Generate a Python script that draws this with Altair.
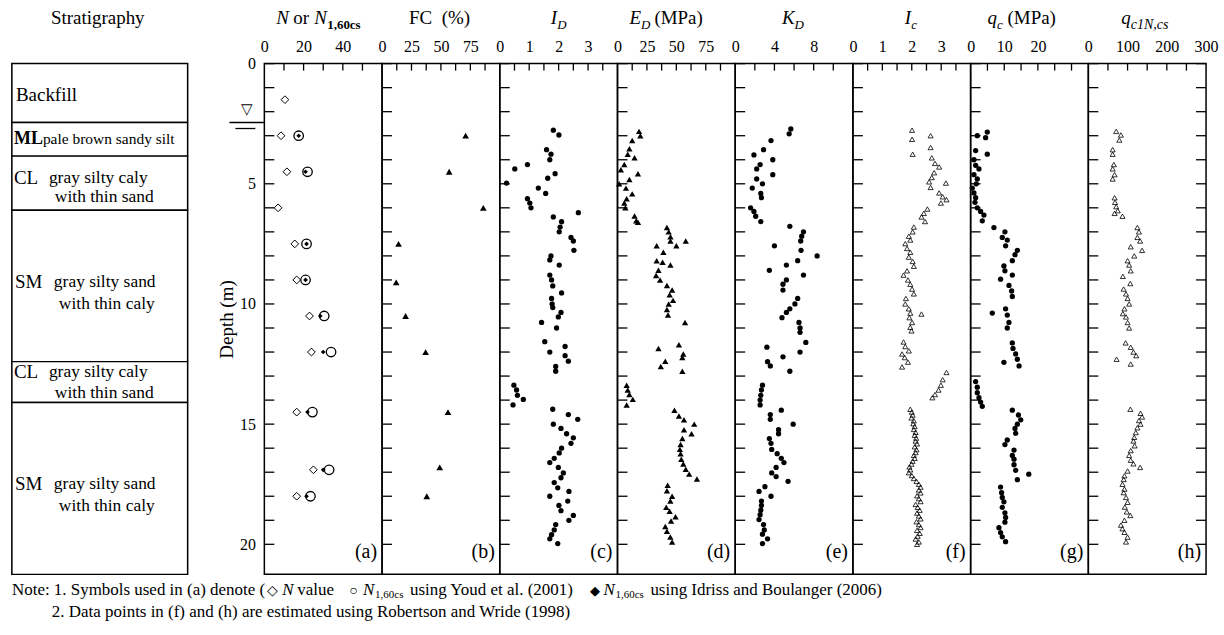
import altair as alt
import pandas as pd

FONT = "Liberation Serif"
W, H, DMAX = 118, 512, 21.25
SW = 176

# ---------------- data ----------------
# (a) SPT
a_depth = [1.5, 3.0, 4.5, 6.0, 7.5, 9.0, 10.5, 12.0, 14.5, 16.9, 18.0]
a_n     = [10.5, 8.5, 11.5, 7.0, 15.5, 16.5, 23.0, 24.0, 16.5, 25.0, 16.5]
a_youd  = [None, 17.5, 22.0, None, 21.5, 21.0, 30.5, 34.0, 24.5, 33.0, 23.5]
a_ib    = [None, 17.5, 21.0, None, 21.5, 21.0, 28.5, 30.0, 22.0, 30.0, 21.5]

# (b) fines content
b_depth = [3.0, 4.5, 6.0, 7.5, 9.1, 10.5, 12.0, 14.5, 16.8, 18.0]
b_fc    = [71, 57, 86, 14, 12, 20, 37, 56, 49, 38]

# (c) I_D
c_depth = [2.77, 2.97, 3.58, 3.77, 4.0, 4.2, 4.38, 4.58, 4.77, 4.97, 5.18, 5.4, 5.62, 5.8, 6.0,
           6.2, 6.38, 6.58, 6.8, 7.0, 7.23, 7.38, 7.77, 8.0, 8.17, 8.38, 8.8, 9.0, 9.25, 9.54,
           9.77, 10.0, 10.15, 10.35, 10.54, 10.77, 11.0, 11.57, 11.77, 12.0, 12.15, 12.38, 12.6,
           12.8, 13.38, 13.58, 13.8, 13.97, 14.2, 14.38, 14.6, 14.8, 15.0, 15.18, 15.4, 15.57,
           15.8, 16.0, 16.2, 16.42, 16.6, 16.8, 17.03, 17.23, 17.43, 17.65, 17.8, 18.0, 18.2,
           18.38, 18.6, 18.8, 19.0, 19.18, 19.4, 19.6, 19.77, 19.97]
c_id    = [1.82, 2.01, 1.59, 1.74, 1.70, 0.94, 0.51, 1.88, 1.63, 0.23, 1.31, 1.56, 0.94, 1.02, 1.06,
           2.67, 1.82, 2.10, 2.05, 2.02, 2.42, 2.50, 2.52, 1.74, 1.70, 2.02, 1.70, 1.76, 1.80, 2.10,
           1.76, 1.78, 1.80, 2.08, 1.99, 1.42, 1.93, 1.53, 2.22, 1.70, 2.22, 2.33, 1.90,
           1.90, 0.48, 0.57, 0.60, 0.80, 0.45, 1.80, 2.33, 2.65, 1.82, 2.08, 2.27, 2.50,
           2.42, 2.10, 2.02, 1.85, 1.70, 1.99, 2.16, 2.08, 1.85, 1.97, 2.35, 1.70, 2.31,
           2.01, 2.08, 2.50, 2.35, 1.90, 1.85, 1.76, 1.70, 1.97]

# (d) E_D (MPa)
d_depth = [2.82, 3.0, 3.2, 3.54, 3.77, 3.92, 4.2, 4.42, 4.58, 4.82, 5.0, 5.18, 5.42, 5.62, 5.8, 6.0,
           6.34, 6.54, 6.6, 6.82, 7.0, 7.2, 7.38, 7.38, 7.58, 7.58, 7.85, 8.2, 8.26, 8.38, 8.6,
           8.82, 9.0, 9.23, 9.42, 9.62, 9.85, 10.0, 10.23, 10.46, 10.77, 11.7, 11.85, 12.08,
           12.23, 12.38, 12.6, 12.8, 13.38, 13.58, 13.77, 13.97, 14.2, 14.42, 14.66, 14.82,
           15.0, 15.23, 15.4, 15.6, 15.85, 16.05, 16.23, 16.46, 16.66, 16.88, 17.08, 17.28,
           17.54, 17.77, 18.0, 18.2, 18.46, 18.62, 18.85, 19.03, 19.26, 19.46, 19.7, 19.9]
d_ed    = [18.3, 19.4, 12.5, 10.1, 8.7, 14.5, 5.8, 2.9, 17.4, 10.1, 1.4, 7.2, 12.5, 7.8, 5.8, 6.7,
           14.5, 15.9, 17.4, 42.0, 43.5, 45.0, 45.0, 58.0, 33.3, 50.0, 39.0, 33.3, 38.3, 45.0, 34.8,
           32.8, 36.2, 42.0, 46.4, 44.3, 47.2, 43.5, 42.0, 42.9, 57.4, 52.2, 34.8, 55.9,
           55.1, 40.6, 36.8, 55.1, 7.8, 8.7, 10.1, 13.0, 7.8, 48.4, 52.2, 56.5,
           65.2, 56.5, 62.9, 55.1, 53.6, 53.0, 53.6, 54.2, 55.9, 58.0, 60.9, 67.5,
           42.6, 42.0, 46.4, 44.9, 41.4, 44.3, 49.3, 45.5, 40.6, 42.0, 44.9, 46.4]

# (e) K_D
e_depth = [2.72, 2.92, 3.2, 3.58, 3.8, 4.0, 4.2, 4.38, 4.62, 4.8, 5.0, 5.18, 5.4, 5.58, 6.0, 6.15,
           6.35, 6.57, 6.77, 7.0, 7.18, 7.38, 7.58, 7.77, 8.0, 8.2, 8.38, 8.6, 8.8, 9.0, 9.18,
           9.42, 9.77, 10.0, 10.2, 10.35, 10.57, 10.77, 11.0, 11.18, 11.6, 11.8, 12.0, 12.2,
           12.4, 12.58, 12.8, 13.38, 13.58, 13.8, 14.0, 14.2, 14.42, 14.6, 14.8, 15.0, 15.23,
           15.4, 15.6, 15.8, 16.05, 16.23, 16.42, 16.6, 16.8, 17.03, 17.18, 17.38, 17.6, 17.8,
           18.0, 18.2, 18.38, 18.58, 18.77, 18.97, 19.18, 19.4, 19.58, 19.77, 19.97]
e_kd    = [5.67, 5.50, 3.65, 2.89, 1.91, 3.83, 2.54, 2.19, 3.83, 2.19, 2.78, 1.74, 2.61, 2.68, 1.57, 1.91,
           2.09, 2.61, 5.57, 6.96, 6.78, 6.68, 4.00, 6.71, 8.35, 6.37, 5.22, 3.48, 6.96, 5.22, 4.87,
           4.87, 6.37, 6.09, 5.57, 5.22, 4.77, 6.50, 6.61, 6.61, 7.20, 3.23, 6.61, 4.87,
           3.30, 3.58, 5.57, 2.78, 2.68, 2.61, 2.54, 2.54, 4.70, 3.58, 3.58, 5.91, 4.42,
           4.42, 3.48, 3.65, 3.72, 4.28, 4.70, 4.97, 4.17, 3.72, 4.17, 5.39, 3.03, 2.43,
           3.65, 2.68, 2.68, 2.61, 2.54, 2.43, 2.89, 2.96, 2.78, 3.30, 2.78]

# (f) I_c
f_depth = [2.77, 3.0, 3.15, 3.49, 3.77, 3.92, 4.15, 4.3, 4.54, 4.74, 4.92, 4.97, 5.15, 5.38, 5.54,
           5.66, 5.8, 6.05, 6.23, 6.38, 6.57, 6.8, 7.0, 7.18, 7.34, 7.49, 7.69, 7.85, 8.05, 8.23,
           8.43, 8.62, 8.8, 9.0, 9.18, 9.38, 9.58, 9.77, 10.0, 10.2, 10.38, 10.42, 10.57, 10.77,
           10.97, 11.12, 11.58, 11.77, 11.95, 12.08, 12.23, 12.42, 12.62, 12.85, 13.15, 13.38,
           13.58, 13.77, 13.9, 14.38, 14.5, 14.62, 14.74, 14.86, 14.98, 15.1, 15.22, 15.34, 15.46,
           15.58, 15.7, 15.82, 15.94, 16.06, 16.18, 16.3, 16.42, 16.54, 16.66, 16.78, 16.9, 17.02,
           17.14, 17.26, 17.38, 17.5, 17.62, 17.74, 17.86, 17.98, 18.1, 18.22, 18.34, 18.46, 18.58,
           18.7, 18.82, 18.94, 19.06, 19.18, 19.3, 19.42, 19.54, 19.66, 19.78, 19.9, 20.0]
f_ic    = [2.01, 2.64, 2.01, 2.64, 2.03, 2.68, 2.79, 2.93, 2.76, 2.68, 2.59, 3.16, 2.64, 2.93, 3.05,
           3.18, 2.99, 2.53, 2.41, 2.33, 2.45, 2.07, 2.03, 1.90, 1.95, 1.78, 1.84, 1.95, 1.90, 2.03,
           2.07, 1.84, 1.72, 1.87, 1.95, 2.01, 2.07, 1.80, 1.78, 1.90, 1.95, 2.33, 1.92, 2.01,
           1.95, 1.99, 1.72, 1.78, 1.90, 1.67, 1.76, 1.87, 1.67, 3.18, 3.05, 2.99,
           2.91, 2.79, 2.70, 1.95, 2.00, 2.03, 1.99, 2.07, 2.05, 2.10, 2.07, 2.13, 2.10,
           2.15, 2.13, 2.18, 2.10, 2.16, 2.13, 2.07, 2.10, 2.03, 1.99, 1.92, 1.95, 1.90,
           2.00, 2.07, 2.16, 2.24, 2.30, 2.24, 2.30, 2.18, 2.24, 2.30, 2.13, 2.20, 2.27,
           2.18, 2.24, 2.30, 2.16, 2.24, 2.30, 2.18, 2.27, 2.20, 2.13, 2.24, 2.18]

# (g) q_c (MPa)
g_depth = [2.85, 3.0, 3.08, 3.62, 3.77, 4.0, 4.23, 4.38, 4.62, 4.8, 5.0, 5.18, 5.38, 5.58, 5.77,
           6.0, 6.15, 6.3, 6.54, 6.82, 7.0, 7.23, 7.34, 7.58, 7.77, 7.95, 8.2, 8.42, 8.62, 8.8,
           8.97, 9.23, 9.46, 9.69, 10.2, 10.38, 10.46, 10.77, 11.0, 11.62, 11.85, 12.08, 12.3,
           12.43, 12.58, 13.23, 13.46, 13.69, 13.9, 14.08, 14.26, 14.42, 14.62, 14.82, 15.0,
           15.18, 15.38, 15.66, 15.85, 16.08, 16.3, 16.46, 16.69, 16.92, 17.08, 17.31, 17.62,
           17.85, 18.05, 18.23, 18.46, 18.69, 18.88, 19.08, 19.31, 19.51, 19.69, 19.89]
g_qc    = [4.95, 1.98, 4.46, 1.49, 4.95, 0.99, 1.49, 2.48, 0.99, 1.98, 1.68, 0.50, 0.99, 1.49, 1.29,
           1.98, 2.97, 3.96, 3.47, 6.93, 10.2, 9.41, 10.9, 10.4, 13.9, 13.2, 12.4, 9.90, 10.2, 12.4,
           8.91, 11.4, 12.2, 12.4, 10.4, 6.44, 10.9, 11.4, 10.9, 12.4, 12.6, 13.4, 13.9,
           9.90, 14.4, 1.49, 1.98, 1.98, 2.48, 2.97, 3.47, 12.4, 14.2, 14.9, 13.9,
           13.2, 13.4, 10.9, 10.2, 12.9, 12.4, 12.9, 12.9, 13.4, 17.3, 13.9, 8.91,
           9.21, 9.41, 9.90, 9.41, 10.2, 10.4, 10.2, 8.42, 8.91, 9.41, 10.4]

# (h) q_c1N,cs
h_depth = [2.82, 2.97, 3.18, 3.58, 3.77, 4.2, 4.38, 4.62, 4.8, 5.58, 5.77, 5.95, 6.12, 6.23, 6.35,
           6.82, 7.0, 7.23, 7.38, 7.62, 7.77, 8.0, 8.2, 8.38, 8.62, 8.85, 9.15, 9.38, 9.58, 9.77,
           10.0, 10.2, 10.4, 10.54, 10.77, 11.0, 11.62, 11.8, 12.0, 12.15, 12.3, 12.5,
           14.38, 14.55, 14.7, 14.85, 15.0, 15.15, 15.35, 15.55, 15.7, 15.9, 16.1, 16.3, 16.5,
           16.65, 16.8, 16.95, 17.15, 17.3, 17.5, 17.7, 17.85, 18.05, 18.25, 18.45, 18.65, 18.8,
           19.0, 19.2, 19.35, 19.5, 19.7, 19.9]
h_q     = [71, 83, 79, 62, 62, 65, 62, 67, 62, 67, 68, 71, 75, 67, 87,
           125, 129, 125, 132, 108, 137, 117, 100, 104, 108, 88, 107, 90, 96, 100,
           104, 92, 88, 96, 100, 104, 95, 108, 115, 122, 72, 108,
           107, 133, 137, 129, 133, 125, 121, 117, 115, 118, 108, 104, 108,
           115, 132, 100, 92, 90, 87, 92, 90, 96, 100, 93, 98, 107,
           92, 83, 87, 92, 100, 96]

# stratigraphy
strat_top = [0.0, 2.45, 3.85, 6.1, 12.4, 14.1]
strat_bot = [2.45, 3.85, 6.1, 12.4, 14.1, DMAX]

depth_ticks = list(range(0, 21))

# ---------------- helpers ----------------
ys = alt.Scale(domain=[0, DMAX], reverse=True, nice=False, zero=False)


def txt(s, x, y=None, depth=None, size=17, style="normal", weight="normal",
        align="left", baseline="alphabetic", yax=None):
    df = pd.DataFrame({"t": [s], "d": [depth if depth is not None else 0.0]})
    enc = {"text": "t:N", "x": alt.value(x)}
    if depth is not None:
        enc["y"] = alt.Y("d:Q", scale=ys, axis=yax)
    else:
        enc["y"] = alt.value(y)
    return alt.Chart(df).mark_text(
        font=FONT, fontSize=size, fontStyle=style, fontWeight=weight,
        align=align, baseline=baseline, color="black").encode(**enc)


def hrule(depth, x1, x2, yax=None):
    return alt.Chart(pd.DataFrame({"d": [depth]})).mark_rule(
        color="black", strokeWidth=1.3).encode(
        y=alt.Y("d:Q", scale=ys, axis=yax), x=alt.value(x1), x2=alt.value(x2))


def panel(xmax, tick_vals, label_vals, series, title_parts, tag,
          left_axis=False, right_ticks=False, water=False):
    xs = alt.Scale(domain=[0, xmax], nice=False, zero=False)
    xax = alt.Axis(orient="top", values=label_vals, ticks=False, tickSize=0, domain=False,
                   grid=False, labelPadding=9, labelFont=FONT, labelFontSize=16,
                   labelColor="black", labelFlush=False, labelOverlap=False,
                   labelBound=False, title=None, format="d")
    if left_axis:
        yax = alt.Axis(orient="left", values=[0, 5, 10, 15, 20], ticks=False, tickSize=0,
                       domain=False, grid=False, labelPadding=9, labelFont=FONT,
                       labelFontSize=16, labelColor="black", labelFlush=False,
                       labelOverlap=False, format="d", title="Depth (m)",
                       titleFont=FONT, titleFontSize=19, titleFontWeight="normal",
                       titleColor="black", titlePadding=3)
    else:
        yax = None
    top = alt.Chart(pd.DataFrame({"v": tick_vals})).mark_rule(
        color="black", strokeWidth=1.3).encode(
        x=alt.X("v:Q", scale=xs, axis=xax), y=alt.value(0), y2=alt.value(7))
    dt = pd.DataFrame({"d": depth_ticks})
    left = alt.Chart(dt).mark_rule(color="black", strokeWidth=1.3).encode(
        y=alt.Y("d:Q", scale=ys, axis=yax), x=alt.value(0), x2=alt.value(10))
    layers = [top, left]
    if right_ticks:
        layers.append(alt.Chart(dt).mark_rule(color="black", strokeWidth=1.3).encode(
            y=alt.Y("d:Q", scale=ys, axis=yax), x=alt.value(W - 10), x2=alt.value(W)))
    for depths, vals, shape, size, filled, sw in series:
        df = pd.DataFrame({"d": depths, "v": vals}).dropna()
        layers.append(alt.Chart(df).mark_point(
            shape=shape, size=size, filled=filled, color="black", strokeWidth=sw,
            opacity=1).encode(
            x=alt.X("v:Q", scale=xs, axis=xax),
            y=alt.Y("d:Q", scale=ys, axis=yax)))
    for (s, x, dy, size, style, weight) in title_parts:
        layers.append(txt(s, x, y=-40 + dy, size=size, style=style, weight=weight))
    layers.append(txt(tag, W - 5, y=H - 16, size=20, align="right"))
    if water:
        layers.append(txt("\u25BD", -17, depth=1.9, size=15, align="center",
                          baseline="middle", yax=yax))
        layers.append(hrule(2.45, -35, 0, yax))
        layers.append(hrule(2.7, -29, -9, yax))
    return alt.layer(*layers).properties(width=W, height=H)


# ---------------- panels ----------------
pa = panel(60, [10, 20, 30, 40, 50], [0, 20, 40],
           [(a_depth, a_n, "diamond", 60, False, 1.0),
            (a_depth, a_youd, "circle", 90, False, 1.3),
            (a_depth, a_ib, "diamond", 22, True, 1.0)],
           [("N", 12, 0, 19, "italic", "normal"), ("or", 29, 0, 19, "normal", "normal"),
            ("N", 50, 0, 19, "italic", "normal"), ("1,60cs", 63, 5, 13, "normal", "bold")],
           "(a)", left_axis=True, water=True)
pb = panel(100, [12.5, 25, 37.5, 50, 62.5, 75, 87.5], [0, 25, 50, 75],
           [(b_depth, b_fc, "triangle-up", 45, True, 1.0)],
           [("FC\u00a0\u00a0(%)", 27, 0, 19, "normal", "normal")], "(b)")
pc = panel(4, [0.5, 1, 1.5, 2, 2.5, 3, 3.5], [0, 1, 2, 3],
           [(c_depth, c_id, "circle", 28, True, 1.0)],
           [("I", 51, 0, 19, "italic", "normal"), ("D", 57.5, 5, 13, "italic", "normal")], "(c)")
pd_ = panel(100, [12.5, 25, 37.5, 50, 62.5, 75, 87.5], [0, 25, 50, 75],
            [(d_depth, d_ed, "triangle-up", 40, True, 1.0)],
            [("E", 12, 0, 19, "italic", "normal"), ("D", 23.5, 5, 13, "italic", "normal"),
             ("(MPa)", 37, 0, 19, "normal", "normal")], "(d)")
pe = panel(12, [2, 4, 6, 8, 10], [0, 4, 8],
           [(e_depth, e_kd, "circle", 28, True, 1.0)],
           [("K", 47, 0, 19, "italic", "normal"), ("D", 59.5, 5, 13, "italic", "normal")], "(e)")
pf = panel(4, [0.5, 1, 1.5, 2, 2.5, 3, 3.5], [0, 1, 2, 3],
           [(f_depth, f_ic, "triangle-up", 26, False, 0.8)],
           [("I", 52, 0, 19, "italic", "normal"), ("c", 58.5, 5, 13, "italic", "normal")], "(f)")
pg = panel(35, [5, 10, 15, 20, 25, 30], [0, 10, 20],
           [(g_depth, g_qc, "circle", 28, True, 1.0)],
           [("q", 17, 0, 19, "italic", "normal"), ("c", 26.5, 5, 13, "italic", "normal"),
            ("(MPa)", 37, 0, 19, "normal", "normal")], "(g)")
ph = panel(300, [50, 100, 150, 200, 250], [0, 100, 200, 300],
           [(h_depth, h_q, "triangle-up", 26, False, 0.8)],
           [("q", 33, 0, 19, "italic", "normal"), ("c1N,cs", 42.5, 5, 14, "italic", "normal")],
           "(h)", right_ticks=True)

# ---------------- stratigraphy column ----------------
sdf = pd.DataFrame({"top": strat_top, "bot": strat_bot})
srect = alt.Chart(sdf).mark_rect(fill="white", stroke="black", strokeWidth=1.3).encode(
    y=alt.Y("top:Q", scale=ys, axis=None), y2="bot:Q", x=alt.value(0), x2=alt.value(SW))

stexts = [
    txt("Stratigraphy", SW / 2 - 2, y=-40, size=19, align="center"),
    txt("Backfill", 4, depth=1.3, size=19, baseline="middle"),
    txt("ML", 2, depth=3.15, size=18, weight="bold", baseline="middle"),
    txt("pale brown sandy silt", 31, depth=3.15, size=15.5, baseline="middle"),
    txt("CL", 2, depth=4.75, size=19, baseline="middle"),
    txt("gray silty caly", 37, depth=4.75, size=17.5, baseline="middle"),
    txt("with thin sand", 43, depth=5.55, size=17.5, baseline="middle"),
    txt("SM", 3, depth=9.1, size=19, baseline="middle"),
    txt("gray silty sand", 42, depth=9.1, size=17.5, baseline="middle"),
    txt("with thin caly", 47, depth=10.0, size=17.5, baseline="middle"),
    txt("CL", 2, depth=12.85, size=19, baseline="middle"),
    txt("gray silty caly", 37, depth=12.85, size=17.5, baseline="middle"),
    txt("with thin sand", 43, depth=13.7, size=17.5, baseline="middle"),
    txt("SM", 3, depth=17.5, size=19, baseline="middle"),
    txt("gray silty sand", 42, depth=17.5, size=17.5, baseline="middle"),
    txt("with thin caly", 47, depth=18.4, size=17.5, baseline="middle"),
]

# notes below the figure (x relative to the stratigraphy column)
NY1, NY2 = H + 21, H + 43
notes = [
    txt("Note: 1. Symbols used in (a) denote (", 0, y=NY1, size=17),
    txt("\u25C7", 256, y=NY1, size=14),
    txt("N", 271, y=NY1, size=17, style="italic"),
    txt("value", 286, y=NY1, size=17),
    txt("\u25CB", 338, y=NY1, size=14),
    txt("N", 352, y=NY1, size=17, style="italic"),
    txt("1,60cs", 364, y=NY1 + 3, size=11),
    txt("using Youd et al. (2001)", 399, y=NY1, size=17),
    txt("\u25C6", 579, y=NY1, size=13),
    txt("N", 593, y=NY1, size=17, style="italic"),
    txt("1,60cs", 605, y=NY1 + 3, size=11),
    txt("using Idriss and Boulanger (2006)", 640, y=NY1, size=17),
    txt("2. Data points in (f) and (h) are estimated using Robertson and Wride (1998)",
        40, y=NY2, size=17),
]

strat = alt.layer(srect, *stexts, *notes).properties(width=SW, height=H)

inner = alt.hconcat(pa, pb, pc, pd_, pe, pf, pg, ph, spacing=0, bounds="flush")
chart = alt.hconcat(strat, inner, spacing=77, bounds="flush").properties(
    padding={"left": 10, "top": 7, "right": 5, "bottom": 5}
).configure_view(stroke="black", strokeWidth=1.5).configure_axis(labelFont=FONT, titleFont=FONT)

chart.save("out.html", embed_options={"renderer": "svg", "actions": False})
